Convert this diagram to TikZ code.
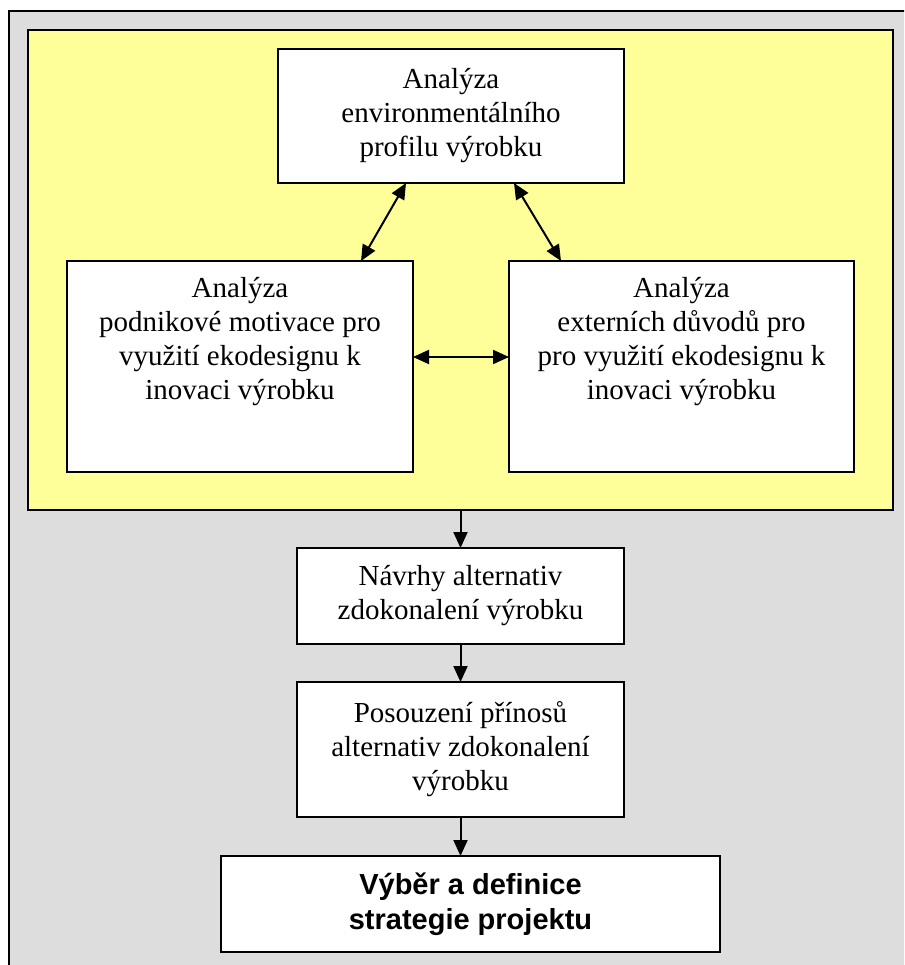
\documentclass[tikz,border=0pt]{standalone}
\usepackage{fontspec}
\setmainfont{Liberation Serif}
\newfontfamily\arialfont{Liberation Sans}
\usetikzlibrary{arrows.meta}
\definecolor{bggray}{HTML}{DDDDDD}
\definecolor{paleyellow}{HTML}{FFFF99}
\tikzset{
  frame/.style={draw=black, line width=2pt, inner sep=0pt, outer sep=0pt},
  box/.style={draw=black, line width=2.4pt, fill=white, inner sep=0pt, outer sep=0pt, align=center, font=\fontsize{29}{34}\selectfont},
  txt/.style={inner sep=0pt, outer sep=0pt, align=center, font=\fontsize{29}{34}\selectfont},
  arr/.style={line width=2pt, -{Triangle[length=16pt,width=14pt]}},
  darr/.style={line width=2pt, {Triangle[length=16pt,width=14pt]}-{Triangle[length=16pt,width=14pt]}},
}
\begin{document}
\begin{tikzpicture}[x=1pt,y=-1pt]
\useasboundingbox (0,0) rectangle (904,965);
\clip (0,0) rectangle (904,965);
\fill[white] (0,0) rectangle (904,965);
\node[frame, fill=bggray, anchor=north west, minimum width=920pt, minimum height=970pt] (outer) at (9,11) {};
\node[frame, fill=paleyellow, anchor=north west, minimum width=865pt, minimum height=480pt] (yarea) at (28,30) {};
\node[box, minimum width=346pt, minimum height=134pt] (top) at (451,116) {Analýza\\environmentálního\\profilu výrobku};
\node[box, minimum width=346pt, minimum height=211pt] (left) at (240,366.5) {};
\node[txt, anchor=north] (lefttxt) at ([yshift=-16pt]left.north) {Analýza\\podnikové motivace pro\\využití ekodesignu k\\inovaci výrobku};
\node[box, minimum width=345pt, minimum height=211pt] (right) at (681.5,366.5) {};
\node[txt, anchor=north] (righttxt) at ([yshift=-16pt]right.north) {Analýza\\externích důvodů pro\\pro využití ekodesignu k\\inovaci výrobku};
\node[box, minimum width=327pt, minimum height=96pt] (navrhy) at (460.5,596) {Návrhy alternativ\\zdokonalení výrobku};
\node[box, minimum width=327pt, minimum height=135pt] (posouz) at (460.5,749.5) {Posouzení přínosů\\alternativ zdokonalení\\výrobku};
\node[box, minimum width=499pt, minimum height=96pt, font=\arialfont\bfseries\fontsize{29}{35}\selectfont] (vyber) at (470.5,904) {Výběr a definice\\strategie projektu};
\draw[darr] ([xshift=-45pt]top.south) -- ([xshift=121pt]left.north);
\draw[darr] ([xshift=63pt]top.south) -- ([xshift=-120.5pt]right.north);
\draw[darr] ([yshift=9.5pt]left.east) -- ([yshift=9.5pt]right.west);
\draw[arr] (navrhy.north |- yarea.south) -- (navrhy.north);
\draw[arr] (navrhy.south) -- (posouz.north);
\draw[arr] (posouz.south) -- (posouz.south |- vyber.north);
\end{tikzpicture}
\end{document}
